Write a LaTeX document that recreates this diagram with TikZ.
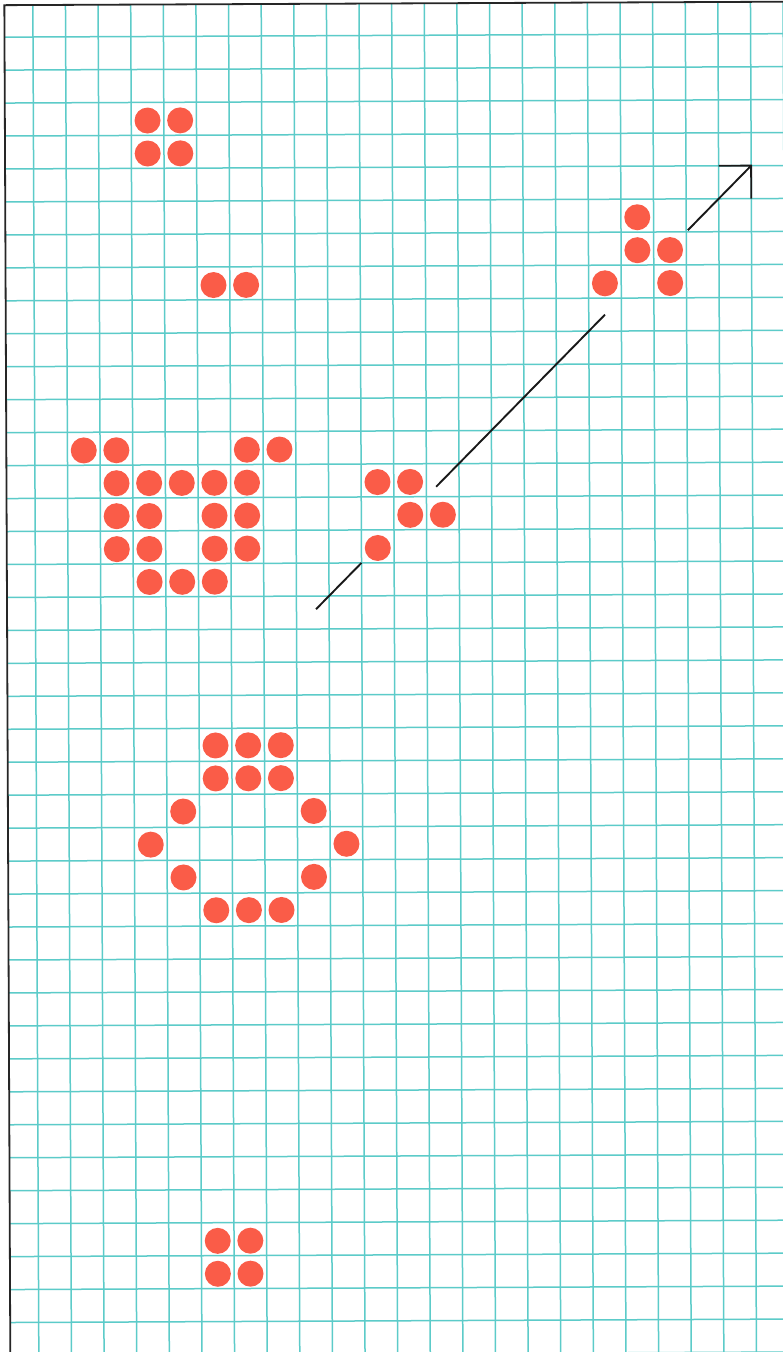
\documentclass[tikz,border=0pt]{standalone}
\definecolor{gridcyan}{HTML}{5CCBC9}
\definecolor{dotred}{HTML}{FA5C48}
\begin{document}
\begin{tikzpicture}[x=1pt,y=1pt,
  gridline/.style={draw=gridcyan, line width=1.5pt},
  borderline/.style={draw=black!85, line width=1.8pt},
  dot/.style={circle, fill=dotred, draw=none, minimum size=26pt, inner sep=0pt},
  arrowline/.style={draw=black!90, line width=1.9pt, line cap=butt, line join=miter}]
\useasboundingbox (0,0) rectangle (783,-1352);
\fill[white] (0,0) rectangle (783,-1352);
\begin{scope}
\clip (0,0) rectangle (783,-1352);
\begin{scope}[shift={(33,-37)}, rotate=0.254, x={(32.62pt,0pt)}, y={(0pt,-32.96pt)}]
  % grid
  \foreach \k in {0,...,23} { \draw[gridline] (\k,-0.97) -- (\k,41); }
  \foreach \k in {0,...,40} { \draw[gridline] (-0.874,\k) -- (24,\k); }
  % border
  \draw[borderline] (-0.874,41) -- (-0.874,-0.97) -- (24,-0.97);
  % dots: top block
  \node[dot] (b1) at (3.5,2.55) {};
  \node[dot] (b2) at (4.5,2.55) {};
  \node[dot] (b3) at (3.5,3.55) {};
  \node[dot] (b4) at (4.5,3.55) {};
  % pair
  \node[dot] (p1) at (5.5,7.55) {};
  \node[dot] (p2) at (6.5,7.55) {};
  % big pattern
  \foreach \c/\r [count=\i] in {1/12,2/12,6/12,7/12,2/13,3/13,4/13,5/13,6/13,2/14,3/14,5/14,6/14,2/15,3/15,5/15,6/15,3/16,4/16,5/16}
    { \node[dot] (g\i) at (\c+0.5,\r+0.55) {}; }
  % middle glider
  \foreach \c/\r [count=\i] in {10/13,11/13,11/14,12/14,10/15}
    { \node[dot] (m\i) at (\c+0.5,\r+0.55) {}; }
  % top glider
  \foreach \c/\r [count=\i] in {18/5,18/6,19/6,17/7,19/7}
    { \node[dot] (t\i) at (\c+0.5,\r+0.55) {}; }
  % ring
  \foreach \c/\r [count=\i] in {5/21,6/21,7/21,5/22,6/22,7/22,4/23,8/23,3/24,9/24,4/25,8/25,5/26,6/26,7/26}
    { \node[dot] (r\i) at (\c+0.5,\r+0.52) {}; }
  % bottom block
  \foreach \c/\r [count=\i] in {5/36,6/36,5/37,6/37}
    { \node[dot] (q\i) at (\c+0.5,\r+0.55) {}; }
  % arrow
  \coordinate (s1) at (8.6,17.4);
  \coordinate (e1) at (10.0,16.0);
  \coordinate (s2) at (12.3,13.7);
  \coordinate (e2) at (17.5,8.5);
  \coordinate (s3) at (20.05,5.95);
  \coordinate (tip) at (22,4);
  \coordinate (hl) at (21,4);
  \coordinate (hd) at (22,5);
  \draw[arrowline] (s1) -- (e1);
  \draw[arrowline] (s2) -- (e2);
  \draw[arrowline] (s3) -- (tip);
  \draw[arrowline] (hl) -- (tip) -- (hd);
\end{scope}
\end{scope}
\end{tikzpicture}
\end{document}
